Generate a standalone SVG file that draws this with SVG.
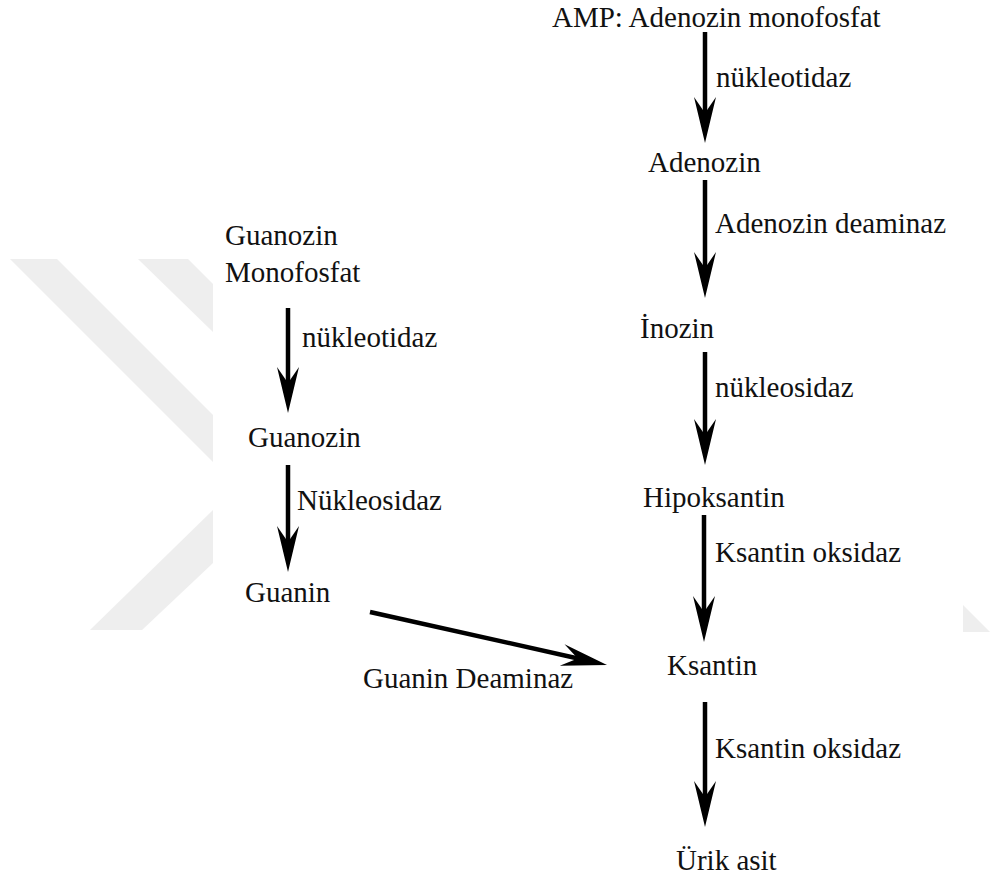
<svg xmlns="http://www.w3.org/2000/svg" width="990" height="879" viewBox="0 0 990 879">
<style>
text { font-family: 'Liberation Serif', 'Tinos', 'Times New Roman', 'DejaVu Serif', serif; font-size: 29px; fill: #111; }
.wm { fill: #eeeeee; }
.conn line { stroke: #000; stroke-width: 4.5; marker-end: url(#ah); }
</style>
<defs>
<marker id="ah" markerUnits="userSpaceOnUse" markerWidth="50" markerHeight="26" viewBox="0 -13 50 26" refX="22" refY="0" orient="auto" overflow="visible">
<path d="M0,-11 L46,0 L0,11 L16,0 Z" fill="#000"/>
</marker>
</defs>
<rect width="990" height="879" fill="#fff"/>
<g id="watermark">
<polygon class="wm" points="10,259 57,259 213,415 213,462"/>
<polygon class="wm" points="138,259 188,259 213,284 213,332"/>
<polygon class="wm" points="213,510 90,630 142,630 213,563"/>
<polygon class="wm" points="963,605 990,632 963,632"/>
</g>
<g id="connectors" class="conn">
<line x1="705" y1="32" x2="705" y2="119"/>
<line x1="705" y1="180" x2="705" y2="274"/>
<line x1="705" y1="352" x2="705" y2="441"/>
<line x1="704" y1="515" x2="704" y2="618"/>
<line x1="705" y1="702" x2="705" y2="803"/>
<line x1="288" y1="308" x2="288" y2="389"/>
<line x1="288" y1="465" x2="288" y2="548"/>
<line x1="370" y1="612" x2="583.6" y2="659.7"/>
</g>
<g font-family="Liberation Serif, serif">
<g id="amp"><text x="552" y="27">AMP: Adenozin monofosfat</text></g>
<g id="lbl-nukleotidaz-1"><text x="716" y="87">nükleotidaz</text></g>
<g id="adenozin"><text x="648" y="172">Adenozin</text></g>
<g id="lbl-adenozin-deaminaz"><text x="715" y="233">Adenozin deaminaz</text></g>
<g id="inozin"><text x="640" y="338">İnozin</text></g>
<g id="lbl-nukleosidaz"><text x="715" y="397">nükleosidaz</text></g>
<g id="hipoksantin"><text x="643" y="507">Hipoksantin</text></g>
<g id="lbl-ksantin-oksidaz-1"><text x="715" y="562">Ksantin oksidaz</text></g>
<g id="ksantin"><text x="667" y="675">Ksantin</text></g>
<g id="lbl-ksantin-oksidaz-2"><text x="715" y="758">Ksantin oksidaz</text></g>
<g id="urik-asit"><text x="676" y="870">Ürik asit</text></g>
<g id="gmp"><text x="225" y="245">Guanozin</text><text x="225" y="282">Monofosfat</text></g>
<g id="lbl-nukleotidaz-2"><text x="302" y="347">nükleotidaz</text></g>
<g id="guanozin"><text x="248" y="447">Guanozin</text></g>
<g id="lbl-nukleosidaz-2"><text x="297" y="510">Nükleosidaz</text></g>
<g id="guanin"><text x="245" y="602">Guanin</text></g>
<g id="lbl-guanin-deaminaz"><text x="363" y="688">Guanin Deaminaz</text></g>
</g>
</svg>
